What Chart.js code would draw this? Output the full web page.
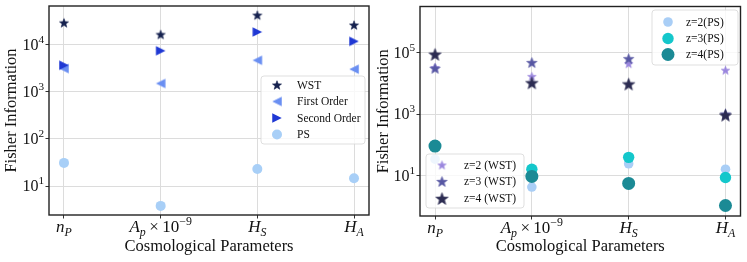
<!DOCTYPE html>
<html><head><meta charset="utf-8">
<script src="https://cdn.jsdelivr.net/npm/chart.js@4/dist/chart.umd.min.js"></script>
<style>
html,body{margin:0;padding:0;background:#fff;overflow:hidden}
#w{position:relative;width:747px;height:262px}
canvas{position:absolute;top:0}
</style></head>
<body><div id="w">
<canvas id="c1" width="375" height="262" style="left:0"></canvas>
<canvas id="c2" width="372" height="262" style="left:375px"></canvas>
</div>
<script>
// ---- data ----
const categories = [
  [{t:'n'},{t:'P',sub:1}],
  [{t:'A'},{t:'p',sub:1},{t:'\u2009\u00d7\u200910',up:1},{t:'\u22129',sup:1}],
  [{t:'H'},{t:'S',sub:1}],
  [{t:'H'},{t:'A',sub:1}]
];
const leftYTicks = [10, 100, 1000, 10000];
const rightYTicks = [10, 1000, 100000];

const leftWST    = [29000, 16400, 42000, 26000];
const leftFirst  = [3100, 1500, 4650, 3000];
const leftSecond = [3650, 7400, 18500, 11700];
const leftPS     = [31, 3.8, 23, 14.6];

const wstZ2 = [33000, 17000, 44000, 27000];
const wstZ3 = [31000, 48000, 64000, 1000];
const wstZ4 = [89000, 10500, 9600, 930];
const psZ2  = [34, 4.2, 24, 16];
const psZ3  = [90, 16, 39, 8.6];
const psZ4  = [91, 9.3, 5.5, 1.05];

const leftNames  = ['WST', 'First Order', 'Second Order', 'PS'];
const rightWSTNames = ['z=2 (WST)', 'z=3 (WST)', 'z=4 (WST)'];
const rightPSNames  = ['z=2(PS)', 'z=3(PS)', 'z=4(PS)'];
const xTitle = 'Cosmological Parameters';
const yTitle = 'Fisher Information';

// ---- marker images ----
const SERIF = '"Liberation Serif","DejaVu Serif",serif';
function starImg(color, d) {
  const s = Math.ceil(d) + 2;
  const c = document.createElement('canvas'); c.width = c.height = s;
  const g = c.getContext('2d');
  const R = d / 2, r = R * 0.42, cx = s / 2, cy = s / 2 + R * 0.1;
  g.beginPath();
  for (let i = 0; i < 10; i++) {
    const a = -Math.PI / 2 + i * Math.PI / 5, rr = i % 2 ? r : R;
    g.lineTo(cx + rr * Math.cos(a), cy + rr * Math.sin(a));
  }
  g.closePath(); g.fillStyle = color; g.fill();
  g.strokeStyle = color; g.lineWidth = 0.6; g.stroke();
  return c;
}
function triImg(color, d, dir) {
  const s = Math.ceil(d) + 2;
  const c = document.createElement('canvas'); c.width = c.height = s;
  const g = c.getContext('2d');
  const h = d / 2, cx = s / 2, cy = s / 2;
  g.beginPath();
  if (dir < 0) { g.moveTo(cx - h, cy); g.lineTo(cx + h, cy - h); g.lineTo(cx + h, cy + h); }
  else { g.moveTo(cx + h, cy); g.lineTo(cx - h, cy - h); g.lineTo(cx - h, cy + h); }
  g.closePath(); g.fillStyle = color; g.fill();
  return c;
}
const pts = arr => arr.map((v, i) => ({x: i, y: v}));

// ---- text helpers ----
function richParts(ctx, segs, size) {
  return segs.map(s => {
    let f, dy;
    if (s.sub) { f = `italic ${size * 0.7}px ${SERIF}`; dy = size * 0.28; }
    else if (s.sup) { f = `${size * 0.7}px ${SERIF}`; dy = -size * 0.36; }
    else if (s.up) { f = `${size}px ${SERIF}`; dy = 0; }
    else { f = `italic ${size}px ${SERIF}`; dy = 0; }
    ctx.font = f;
    return {t: s.t, f, dy, w: ctx.measureText(s.t).width};
  });
}
function drawRich(ctx, segs, x, y, size, align) {
  const parts = richParts(ctx, segs, size);
  const tw = parts.reduce((a, p) => a + p.w, 0);
  let cx = align === 'right' ? x - tw : align === 'center' ? x - tw / 2 : x;
  ctx.textBaseline = 'middle'; ctx.textAlign = 'left'; ctx.fillStyle = '#111';
  parts.forEach(p => { ctx.font = p.f; ctx.fillText(p.t, cx, y + p.dy); cx += p.w; });
}

const decorPlugin = {
  id: 'decor',
  afterDraw(chart) {
    const o = chart.options.plugins.decor;
    const ctx = chart.ctx, a = chart.chartArea;
    ctx.save();
    // legends
    o.legends.forEach(L => {
      ctx.beginPath();
      ctx.roundRect(L.x0, L.y0, L.x1 - L.x0, L.y1 - L.y0, 3);
      ctx.fillStyle = 'rgba(255,255,255,0.8)'; ctx.fill();
      ctx.strokeStyle = 'rgba(215,215,215,0.8)'; ctx.lineWidth = 1; ctx.stroke();
      L.items.forEach((it, k) => {
        const y = L.ys[k];
        const ds = chart.data.datasets[it.ds];
        if (ds.pointStyle === 'circle') {
          ctx.beginPath(); ctx.arc(L.mx, y, ds.pointRadius, 0, Math.PI * 2);
          ctx.fillStyle = ds.backgroundColor; ctx.fill();
        } else {
          const img = ds.pointStyle;
          ctx.drawImage(img, L.mx - img.width / 2, y - img.height / 2);
        }
        ctx.font = `${L.fs}px ${SERIF}`; ctx.fillStyle = '#111';
        ctx.textAlign = 'left'; ctx.textBaseline = 'middle';
        ctx.fillText(it.name, L.tx, y + 0.5);
      });
    });
    // frame
    ctx.strokeStyle = '#222'; ctx.lineWidth = 1.4;
    ctx.strokeRect(a.left, a.top, a.right - a.left, a.bottom - a.top);
    // x tick labels
    const xs = chart.scales.x, ys = chart.scales.y;
    categories.forEach((segs, i) => drawRich(ctx, segs, xs.getPixelForValue(i), a.bottom + 13, 17, 'center'));
    // y tick labels
    o.yTicks.forEach(v => {
      const e = Math.round(Math.log10(v));
      drawRich(ctx, [{t: '10', up: 1}, {t: String(e), sup: 1}], a.left - 5, ys.getPixelForValue(v) + 1, 16, 'right');
    });
    // titles
    ctx.fillStyle = '#111'; ctx.font = `16.5px ${SERIF}`;
    ctx.textAlign = 'center'; ctx.textBaseline = 'middle';
    ctx.fillText(xTitle, (a.left + a.right) / 2, 247);
    ctx.save();
    ctx.translate(o.yTitleX, (a.top + a.bottom) / 2);
    ctx.rotate(-Math.PI / 2);
    ctx.fillText(yTitle, 0, 0);
    ctx.restore();
    ctx.restore();
  }
};

function makeChart(id, datasets, cfg) {
  const grid = {color: '#dcdcdc', lineWidth: 1, drawTicks: true, tickLength: 3.5, tickColor: '#333'};
  return new Chart(document.getElementById(id), {
    type: 'scatter',
    data: {datasets},
    options: {
      responsive: false, animation: false, devicePixelRatio: 1,
      layout: {padding: {left: 0, right: cfg.padR, top: 5, bottom: 0}},
      plugins: {legend: {display: false}, tooltip: {enabled: false}, decor: cfg.decor},
      scales: {
        x: {type: 'linear', min: -0.155, max: 3.155,
            afterFit: s => { s.height = cfg.xH; },
            afterBuildTicks: s => { s.ticks = categories.map((c, i) => ({value: i})); },
            ticks: {display: false}, grid, border: {display: false}},
        y: {type: 'logarithmic', min: cfg.ymin, max: cfg.ymax,
            afterFit: s => { s.width = cfg.yW; },
            afterBuildTicks: s => { s.ticks = cfg.decor.yTicks.map(v => ({value: v})); },
            ticks: {display: false}, grid, border: {display: false}}
      }
    },
    plugins: [decorPlugin]
  });
}

// ---- left chart ----
const leftDatasets = [
  {label: leftNames[0], data: pts(leftWST), pointStyle: starImg('#16224f', 9.5), pointRadius: 5, order: 4},
  {label: leftNames[1], data: pts(leftFirst), pointStyle: triImg('#6a8ff2', 9.5, -1), pointRadius: 5, order: 3},
  {label: leftNames[2], data: pts(leftSecond), pointStyle: triImg('#1f38d4', 9.5, 1), pointRadius: 5, order: 2},
  {label: leftNames[3], data: pts(leftPS), pointStyle: 'circle', pointRadius: 5, backgroundColor: '#a8cff7', borderWidth: 0, order: 1}
];
makeChart('c1', leftDatasets, {
  padR: 4, xH: 47, yW: 49, ymin: Math.pow(10, 0.387), ymax: Math.pow(10, 4.818),
  decor: {
    yTicks: leftYTicks, yTitleX: 12,
    legends: [{x0: 261, y0: 76, x1: 365, y1: 144, mx: 277, tx: 297, fs: 11.5, ys: [85, 101.5, 118, 134.5],
      items: leftNames.map((n, i) => ({name: n, ds: i}))}]
  }
});

// ---- right chart ----
const rightDatasets = [
  {label: rightWSTNames[0], data: pts(wstZ2), pointStyle: starImg('#9a86de', 9), pointRadius: 5, order: 6},
  {label: rightWSTNames[1], data: pts(wstZ3), pointStyle: starImg('#5757a3', 11), pointRadius: 5, order: 5},
  {label: rightWSTNames[2], data: pts(wstZ4), pointStyle: starImg('#2c2c52', 13), pointRadius: 5, order: 4},
  {label: rightPSNames[0], data: pts(psZ2), pointStyle: 'circle', pointRadius: 4.8, backgroundColor: '#a9cef6', borderWidth: 0, order: 3},
  {label: rightPSNames[1], data: pts(psZ3), pointStyle: 'circle', pointRadius: 5.7, backgroundColor: '#14c7cb', borderWidth: 0, order: 2},
  {label: rightPSNames[2], data: pts(psZ4), pointStyle: 'circle', pointRadius: 6.5, backgroundColor: '#1b8a95', borderWidth: 0, order: 1}
];
makeChart('c2', rightDatasets, {
  padR: 5, xH: 46, yW: 45, ymin: Math.pow(10, -0.32), ymax: Math.pow(10, 6.506),
  decor: {
    yTicks: rightYTicks, yTitleX: 9,
    legends: [
      {x0: 277, y0: 10, x1: 363, y1: 65, mx: 293, tx: 311, fs: 11.5, ys: [22, 38.5, 54.5],
        items: rightPSNames.map((n, i) => ({name: n, ds: i + 3}))},
      {x0: 51, y0: 154, x1: 149, y1: 208, mx: 67, tx: 89, fs: 11.5, ys: [165, 181.5, 198.5],
        items: rightWSTNames.map((n, i) => ({name: n, ds: i}))}
    ]
  }
});
</script>
</body></html>
